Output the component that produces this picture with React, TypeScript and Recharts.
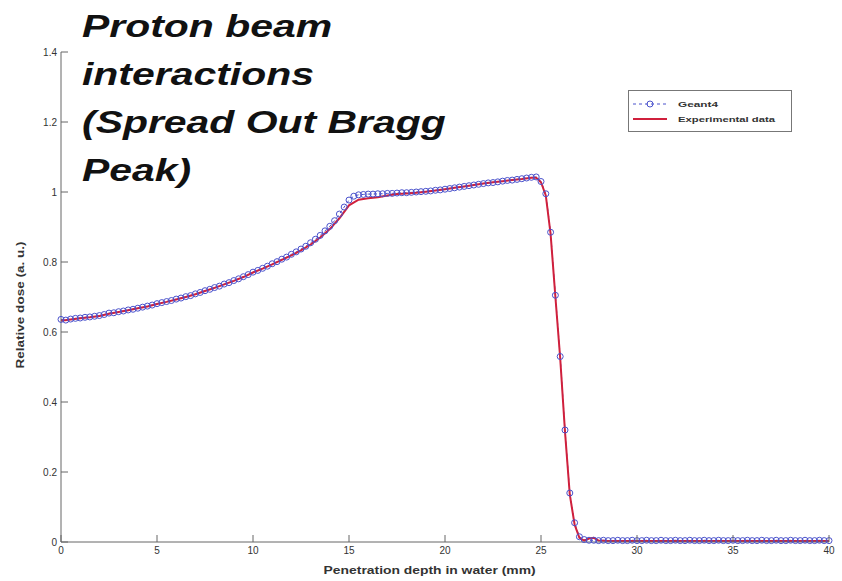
import React from 'react';
import { LineChart, Line, XAxis, YAxis, Legend } from 'recharts';

// depth grid (mm) for the Geant4 points, one every 0.25 mm
const geantDepth = [
  0, 0.25, 0.5, 0.75, 1, 1.25, 1.5, 1.75, 2, 2.25, 2.5, 2.75, 3, 3.25, 3.5, 3.75,
  4, 4.25, 4.5, 4.75, 5, 5.25, 5.5, 5.75, 6, 6.25, 6.5, 6.75, 7, 7.25, 7.5, 7.75,
  8, 8.25, 8.5, 8.75, 9, 9.25, 9.5, 9.75, 10, 10.25, 10.5, 10.75, 11, 11.25, 11.5, 11.75,
  12, 12.25, 12.5, 12.75, 13, 13.25, 13.5, 13.75, 14, 14.25, 14.5, 14.75, 15, 15.25, 15.5, 15.75,
  16, 16.25, 16.5, 16.75, 17, 17.25, 17.5, 17.75, 18, 18.25, 18.5, 18.75, 19, 19.25, 19.5, 19.75,
  20, 20.25, 20.5, 20.75, 21, 21.25, 21.5, 21.75, 22, 22.25, 22.5, 22.75, 23, 23.25, 23.5, 23.75,
  24, 24.25, 24.5, 24.75, 25, 25.25, 25.5, 25.75, 26, 26.25, 26.5, 26.75, 27, 27.25, 27.5, 27.75,
  28, 28.25, 28.5, 28.75, 29, 29.25, 29.5, 29.75, 30, 30.25, 30.5, 30.75, 31, 31.25, 31.5, 31.75,
  32, 32.25, 32.5, 32.75, 33, 33.25, 33.5, 33.75, 34, 34.25, 34.5, 34.75, 35, 35.25, 35.5, 35.75,
  36, 36.25, 36.5, 36.75, 37, 37.25, 37.5, 37.75, 38, 38.25, 38.5, 38.75, 39, 39.25, 39.5, 39.75, 40,
];

const geantDose = [
  0.636, 0.634, 0.637, 0.639, 0.64, 0.642, 0.643, 0.645, 0.647, 0.65, 0.654, 0.655, 0.658, 0.66, 0.663, 0.665,
  0.668, 0.671, 0.674, 0.677, 0.681, 0.684, 0.687, 0.69, 0.694, 0.697, 0.701, 0.704, 0.709, 0.713, 0.718, 0.722,
  0.727, 0.731, 0.737, 0.741, 0.747, 0.752, 0.758, 0.764, 0.771, 0.776, 0.782, 0.788, 0.795, 0.801, 0.808, 0.814,
  0.822, 0.829, 0.837, 0.845, 0.855, 0.865, 0.876, 0.889, 0.902, 0.918, 0.937, 0.957, 0.977, 0.988, 0.992, 0.993,
  0.994, 0.994, 0.995, 0.995, 0.996, 0.996, 0.997, 0.998, 0.998, 0.999, 1.0, 1.001, 1.002, 1.003, 1.005, 1.006,
  1.008, 1.01, 1.012, 1.014, 1.016, 1.018, 1.02, 1.022, 1.024, 1.026, 1.027, 1.029, 1.031, 1.033, 1.034, 1.036,
  1.038, 1.04, 1.042, 1.043, 1.03, 0.995, 0.885, 0.705, 0.53, 0.32, 0.14, 0.055, 0.015, 0.007, 0.005, 0.005,
  0.004, 0.005, 0.004, 0.004, 0.005, 0.004, 0.004, 0.005, 0.004, 0.004, 0.005, 0.004, 0.004, 0.005, 0.004, 0.004,
  0.005, 0.004, 0.004, 0.005, 0.004, 0.004, 0.005, 0.004, 0.004, 0.005, 0.004, 0.004, 0.005, 0.004, 0.004, 0.005,
  0.004, 0.004, 0.005, 0.004, 0.004, 0.005, 0.004, 0.004, 0.005, 0.004, 0.004, 0.005, 0.004, 0.004, 0.005, 0.004, 0.004,
];

// measured curve, coarser with extra points on the distal fall-off
const expDepth = [
  0, 0.5, 1, 1.5, 2, 2.5, 3, 3.5, 4, 4.5, 5, 5.5, 6, 6.5, 7, 7.5, 8, 8.5, 9, 9.5,
  10, 10.5, 11, 11.5, 12, 12.5, 13, 13.5, 14, 14.5, 15, 15.5, 16, 16.5, 17, 17.5, 18, 18.5, 19, 19.5,
  20, 20.5, 21, 21.5, 22, 22.5, 23, 23.5, 24, 24.5, 24.75, 25, 25.25, 25.5, 25.75, 26, 26.25, 26.5, 26.75, 27,
  27.25, 27.5, 27.75, 28, 28.5, 29, 30, 31, 32, 33, 34, 35, 36, 37, 38, 39, 40,
];

const expDose = [
  0.632, 0.636, 0.639, 0.642, 0.646, 0.652, 0.657, 0.662, 0.668, 0.673, 0.68, 0.686, 0.693, 0.7, 0.708, 0.717, 0.726, 0.736, 0.746, 0.757,
  0.77, 0.781, 0.793, 0.806, 0.819, 0.833, 0.85, 0.87, 0.894, 0.925, 0.962, 0.978, 0.982, 0.985, 0.99, 0.994, 0.996, 0.998, 1.001, 1.004,
  1.008, 1.012, 1.016, 1.02, 1.024, 1.028, 1.031, 1.034, 1.037, 1.041, 1.041, 1.028, 0.99, 0.88, 0.7, 0.525, 0.315, 0.135, 0.05, 0.012,
  0.004, 0.01, 0.012, 0.004, 0.003, 0.003, 0.003, 0.003, 0.003, 0.003, 0.003, 0.003, 0.003, 0.003, 0.003, 0.003, 0.003,
];

const xTicks = [0, 5, 10, 15, 20, 25, 30, 35, 40];
const yTicks = [0, 0.2, 0.4, 0.6, 0.8, 1, 1.2, 1.4];
const titleLines = ['Proton beam', 'interactions', '(Spread Out Bragg', 'Peak)'];

const geantData = geantDepth.map((x, i) => ({ x, y: geantDose[i] }));
const expData = expDepth.map((x, i) => ({ x, y: expDose[i] }));

const AXIS = '#666';
const BLUE = '#4a52cc';
const RED = '#d0203c';
const FONT = '"Liberation Sans", Arial, sans-serif';
const TICK_LEN = 7;

const BottomTick = ({ x, y, payload }: any) => (
  <g>
    <line x1={x} y1={y} x2={x} y2={y - TICK_LEN} stroke={AXIS} />
    <text x={x} y={y + 8} textAnchor="middle" dominantBaseline="central" fontSize={10} fontFamily={FONT} fill="#333">
      {payload.value}
    </text>
  </g>
);

const TopTick = ({ x, y }: any) => <line x1={x} y1={y} x2={x} y2={y + TICK_LEN} stroke={AXIS} />;

const LeftTick = ({ x, y, payload }: any) => (
  <g>
    <line x1={x} y1={y} x2={x + TICK_LEN} y2={y} stroke={AXIS} />
    <text x={x - 4} y={y} textAnchor="end" dominantBaseline="central" fontSize={10} fontFamily={FONT} fill="#333">
      {payload.value}
    </text>
  </g>
);

const RightTick = ({ x, y }: any) => <line x1={x} y1={y} x2={x - TICK_LEN} y2={y} stroke={AXIS} />;

const XTitle = ({ viewBox }: any) => (
  <text
    x={viewBox.x + viewBox.width * 0.48 - 106}
    y={574}
    fontSize={10}
    fontWeight="bold"
    fontFamily={FONT}
    fill="#333"
    textLength={212}
    lengthAdjust="spacingAndGlyphs"
  >
    Penetration depth in water (mm)
  </text>
);

const YTitle = ({ viewBox }: any) => {
  const cx = viewBox.x;
  const cy = viewBox.y + viewBox.height / 2 + 8;
  return (
    <text
      x={cx}
      y={cy}
      transform={`rotate(-90 ${cx} ${cy})`}
      textAnchor="middle"
      dominantBaseline="central"
      fontSize={10}
      fontWeight="bold"
      fontFamily={FONT}
      fill="#333"
      textLength={127}
      lengthAdjust="spacingAndGlyphs"
    >
      Relative dose (a. u.)
    </text>
  );
};

const LegendBox = () => (
  <svg width={165} height={43}>
    <rect x={0.5} y={0.5} width={163} height={41} fill="#fff" stroke="#777" />
    <line x1={5} y1={14} x2={39} y2={14} stroke={BLUE} strokeDasharray="3 3" />
    <circle cx={22} cy={14} r={3} fill="none" stroke={BLUE} />
    <text x={50} y={14} dominantBaseline="central" fontSize={8} fontWeight="bold" fontFamily={FONT} fill="#333"
      textLength={40} lengthAdjust="spacingAndGlyphs">Geant4</text>
    <line x1={5} y1={29} x2={39} y2={29} stroke={RED} strokeWidth={2} />
    <text x={50} y={29} dominantBaseline="central" fontSize={8} fontWeight="bold" fontFamily={FONT} fill="#333"
      textLength={97} lengthAdjust="spacingAndGlyphs">Experimental data</text>
  </svg>
);

export default function App() {
  return (
    <div style={{ position: 'absolute', left: 0, top: 0, width: 842, height: 581, background: '#fff' }}>
      <LineChart width={842} height={581} margin={{ top: 52, right: 13, bottom: 0, left: 20 }}>
        <XAxis
          xAxisId="bottom"
          dataKey="x"
          type="number"
          domain={[0, 40]}
          ticks={xTicks}
          interval={0}
          height={39}
          tickSize={0}
          tickMargin={0}
          tick={BottomTick}
          axisLine={{ stroke: AXIS }}
          label={XTitle}
        />
        <XAxis
          xAxisId="top"
          orientation="top"
          type="number"
          domain={[0, 40]}
          ticks={xTicks}
          interval={0}
          height={0}
          tickSize={0}
          tickMargin={0}
          tick={TopTick}
          axisLine={{ stroke: AXIS }}
        />
        <YAxis
          yAxisId="left"
          type="number"
          domain={[0, 1.4]}
          ticks={yTicks}
          interval={0}
          width={41}
          tickSize={0}
          tickMargin={0}
          tick={LeftTick}
          axisLine={{ stroke: AXIS }}
          label={YTitle}
        />
        <YAxis
          yAxisId="right"
          orientation="right"
          type="number"
          domain={[0, 1.4]}
          ticks={yTicks}
          interval={0}
          width={0}
          tickSize={0}
          tickMargin={0}
          tick={RightTick}
          axisLine={{ stroke: AXIS }}
        />
        <Legend
          layout="horizontal"
          verticalAlign="middle"
          align="center"
          wrapperStyle={{ position: 'absolute', left: 628, top: 90, width: 165, height: 43 }}
          content={LegendBox}
        />
        <Line
          xAxisId="bottom"
          yAxisId="left"
          data={geantData}
          dataKey="y"
          name="Geant4"
          type="linear"
          stroke={BLUE}
          strokeWidth={1}
          strokeDasharray="3 3"
          dot={{ r: 3, stroke: BLUE, strokeWidth: 1, fill: 'none', strokeDasharray: 'none' }}
          isAnimationActive={false}
        />
        <Line
          xAxisId="bottom"
          yAxisId="left"
          data={expData}
          dataKey="y"
          name="Experimental data"
          type="linear"
          stroke={RED}
          strokeWidth={2}
          dot={false}
          isAnimationActive={false}
        />
      </LineChart>
      <div
        style={{
          position: 'absolute',
          left: 82,
          top: 3,
          fontFamily: FONT,
          fontWeight: 'bold',
          fontStyle: 'italic',
          fontSize: 31,
          lineHeight: '48px',
          color: '#111',
          transform: 'scaleX(1.32)',
          transformOrigin: 'left top',
          whiteSpace: 'nowrap',
          pointerEvents: 'none',
        }}
      >
        {titleLines.map((t) => (
          <div key={t}>{t}</div>
        ))}
      </div>
    </div>
  );
}
